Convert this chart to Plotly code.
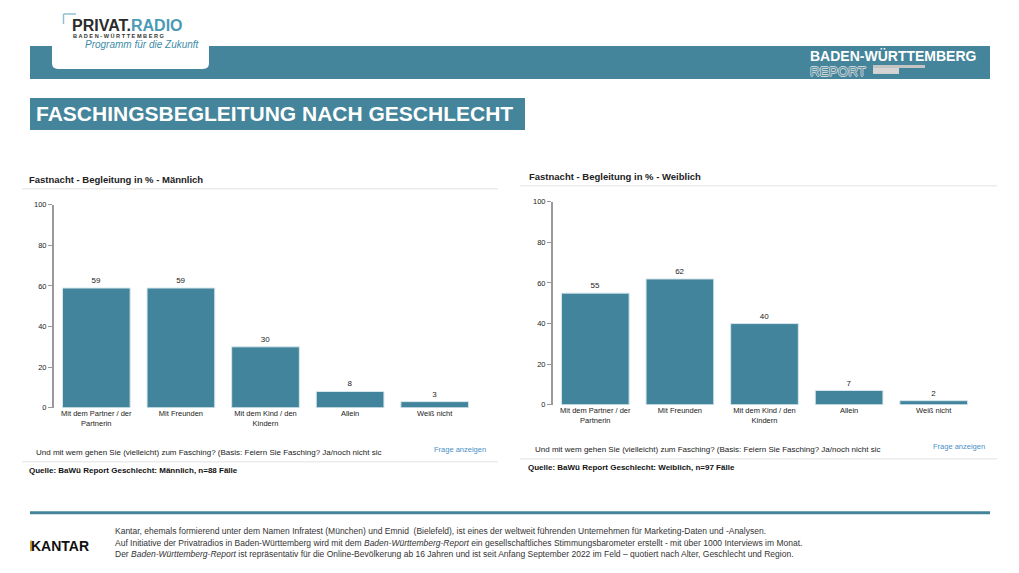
import plotly.graph_objects as go

W, H = 1019, 573

categories = ["Mit dem Partner / der<br>Partnerin", "Mit Freunden",
              "Mit dem Kind / den<br>Kindern", "Allein", "Weiß nicht"]
male_values = [59, 59, 30, 8, 3]
female_values = [55, 62, 40, 7, 2]
y_ticks = [0, 20, 40, 60, 80, 100]

TEAL = "#44859b"
BAR = "#42849b"

def X(px):
    return px / W

# slight vertical calibration of the photographed page
def Y(py):
    return 1 - ((py - 3.0) / 0.985) / H

fig = go.Figure()

fig.add_trace(go.Bar(x=categories, y=male_values, text=male_values, textposition="outside",
                     marker=dict(color=BAR, line=dict(color="#d6e6ec", width=1)),
                     textfont=dict(size=8, color="#222", family="Liberation Sans"),
                     cliponaxis=False, xaxis="x", yaxis="y", showlegend=False))
fig.add_trace(go.Bar(x=categories, y=female_values, text=female_values, textposition="outside",
                     marker=dict(color=BAR, line=dict(color="#d6e6ec", width=1)),
                     textfont=dict(size=8, color="#222", family="Liberation Sans"),
                     cliponaxis=False, xaxis="x2", yaxis="y2", showlegend=False))

xcommon = dict(showgrid=False, showline=False, ticks="", zeroline=False,
               tickfont=dict(size=7.5, color="#222", family="Liberation Sans"),
               fixedrange=True)
ycommon = dict(range=[0, 100], tickvals=y_ticks, showgrid=True,
               gridcolor="rgba(255,255,255,0.18)", gridwidth=1,
               layer="above traces", zeroline=False,
               showline=True, linecolor="#9a9a9a", linewidth=2,
               ticks="outside", ticklen=4, tickcolor="#9a9a9a", tickwidth=1,
               tickfont=dict(size=7.5, color="#222", family="Liberation Sans"),
               fixedrange=True)

fig.update_layout(
    width=W, height=H,
    margin=dict(l=0, r=0, t=0, b=0),
    paper_bgcolor="white", plot_bgcolor="white",
    bargap=0.2,
    xaxis=dict(domain=[X(54), X(477)], anchor="y", **xcommon),
    yaxis=dict(domain=[Y(407), Y(204)], anchor="x", **ycommon),
    xaxis2=dict(domain=[X(553), X(976)], anchor="y2", **xcommon),
    yaxis2=dict(domain=[Y(404), Y(201)], anchor="x2", **ycommon),
    font=dict(family="Liberation Sans, Arial, sans-serif"),
)

shapes = []
# header band
shapes.append(dict(type="rect", xref="paper", yref="paper", x0=X(30), x1=X(990), y0=Y(78), y1=Y(45),
                   fillcolor=TEAL, line=dict(width=0), layer="below"))
# logo box with rounded bottom corners
x0, x1, yb = X(52), X(209), Y(68)
r_x, r_y = X(6) - X(0), 6 / H
path = (f"M {x0},{1.0} L {x0},{yb + r_y} Q {x0},{yb} {x0 + r_x},{yb} "
        f"L {x1 - r_x},{yb} Q {x1},{yb} {x1},{yb + r_y} L {x1},{1.0} Z")
shapes.append(dict(type="path", xref="paper", yref="paper", path=path,
                   fillcolor="white", line=dict(width=0), layer="below"))
# logo bracket
shapes.append(dict(type="line", xref="paper", yref="paper", x0=X(63.5), x1=X(63.5), y0=Y(23), y1=Y(13),
                   line=dict(color="#8fc0d0", width=1.5)))
shapes.append(dict(type="line", xref="paper", yref="paper", x0=X(63.5), x1=X(76), y0=Y(13), y1=Y(13),
                   line=dict(color="#8fc0d0", width=1.5)))
# report bars
shapes.append(dict(type="rect", xref="paper", yref="paper", x0=X(873), x1=X(925), y0=Y(67), y1=Y(64),
                   fillcolor="#c4c4c4", line=dict(width=0)))
shapes.append(dict(type="rect", xref="paper", yref="paper", x0=X(873), x1=X(899), y0=Y(73), y1=Y(67),
                   fillcolor="#d4d4d4", line=dict(width=0)))
# title box
shapes.append(dict(type="rect", xref="paper", yref="paper", x0=X(30), x1=X(525), y0=Y(129), y1=Y(97),
                   fillcolor=TEAL, line=dict(width=0), layer="below"))
# separators under chart titles and above sources
for (a, b, yy) in [(22, 498, 188), (22, 498, 461), (520, 997, 185), (520, 997, 458)]:
    shapes.append(dict(type="line", xref="paper", yref="paper", x0=X(a), x1=X(b), y0=Y(yy), y1=Y(yy),
                       line=dict(color="#ececec", width=1.5)))
# footer line
shapes.append(dict(type="line", xref="paper", yref="paper", x0=X(30), x1=X(990), y0=Y(512), y1=Y(512),
                   line=dict(color=TEAL, width=3)))

ann = []
def text(px, py, s, size, color="#222", bold=False, italic=False, anchor="left", family=None, shadow=None):
    f = dict(size=size, color=color,
             family=family or "Liberation Sans, Arial, sans-serif",
             weight="bold" if bold else "normal",
             style="italic" if italic else "normal")
    if shadow:
        f["shadow"] = shadow
    ann.append(dict(xref="paper", yref="paper", x=X(px), y=Y(py), text=s, showarrow=False,
                    xanchor=anchor, yanchor="middle", font=f))

# logo
text(70, 25, "PRIVAT.<span style='color:#4a9ab5'>RADIO</span>", 16, color="#2b2b2b", bold=True)
text(71, 35.5, "B A D E N - W Ü R T T E M B E R G", 5.6, color="#333", bold=True)
text(83, 44, "Programm für die Zukunft", 10, color="#3f8ca8", italic=True)
# right header
text(808, 55, "BADEN-WÜRTTEMBERG", 14, color="white", bold=True)
outline = "0.7px 0 #cdd2d4, -0.7px 0 #cdd2d4, 0 0.7px #cdd2d4, 0 -0.7px #cdd2d4"
text(808, 70.5, "REPORT", 13.5, color="#5e97aa", shadow=outline)
# title
text(34, 113, "FASCHINGSBEGLEITUNG NACH GESCHLECHT", 21, color="white", bold=True)

# left chart texts
text(27, 179, "Fastnacht - Begleitung in % - Männlich", 9.5, color="#222", bold=True)
text(34, 452, "Und mit wem gehen Sie (vielleicht) zum Fasching? (Basis: Feiern Sie Fasching? Ja/noch nicht sic", 8, color="#222")
text(488, 449, "Frage anzeigen", 7.5, color="#4a90c8", anchor="right")
text(27, 470, "Quelle: BaWü Report Geschlecht: Männlich, n=88 Fälle", 8, color="#111", bold=True)

# right chart texts
text(527, 176, "Fastnacht - Begleitung in % - Weiblich", 9.5, color="#222", bold=True)
text(533, 449, "Und mit wem gehen Sie (vielleicht) zum Fasching? (Basis: Feiern Sie Fasching? Ja/noch nicht sic", 8, color="#222")
text(987, 446, "Frage anzeigen", 7.5, color="#4a90c8", anchor="right")
text(526, 467, "Quelle: BaWü Report Geschlecht: Weiblich, n=97 Fälle", 8, color="#111", bold=True)

# footer
text(29, 545, "KANTAR", 14, color="#111", bold=True)
shapes.append(dict(type="rect", xref="paper", yref="paper", x0=X(30), x1=X(32.4), y0=Y(550.5), y1=Y(540),
                   fillcolor="#c9a227", line=dict(width=0), layer="above"))
FOOT = "Liberation Sans Narrow, Arial Narrow, Liberation Sans, sans-serif"
text(113, 530, "Kantar, ehemals formierend unter dem Namen Infratest (München) und Emnid  (Bielefeld), ist eines der weltweit führenden Unternehmen für Marketing-Daten und -Analysen.", 8.5, color="#333", family=FOOT)
text(113, 542, "Auf Initiative der Privatradios in Baden-Württemberg wird mit dem <i>Baden-Württemberg-Report</i> ein gesellschaftliches Stimmungsbarometer erstellt - mit über 1000 Interviews im Monat.", 8.5, color="#333", family=FOOT)
text(113, 553, "Der <i>Baden-Württemberg-Report</i> ist repräsentativ für die Online-Bevölkerung ab 16 Jahren und ist seit Anfang September 2022 im Feld – quotiert nach Alter, Geschlecht und Region.", 8.5, color="#333", family=FOOT)

fig.update_layout(shapes=shapes, annotations=ann)

fig.write_html("out.html", config={"displayModeBar": False},
               post_script="document.body.style.margin='0';document.body.style.overflow='hidden';")
